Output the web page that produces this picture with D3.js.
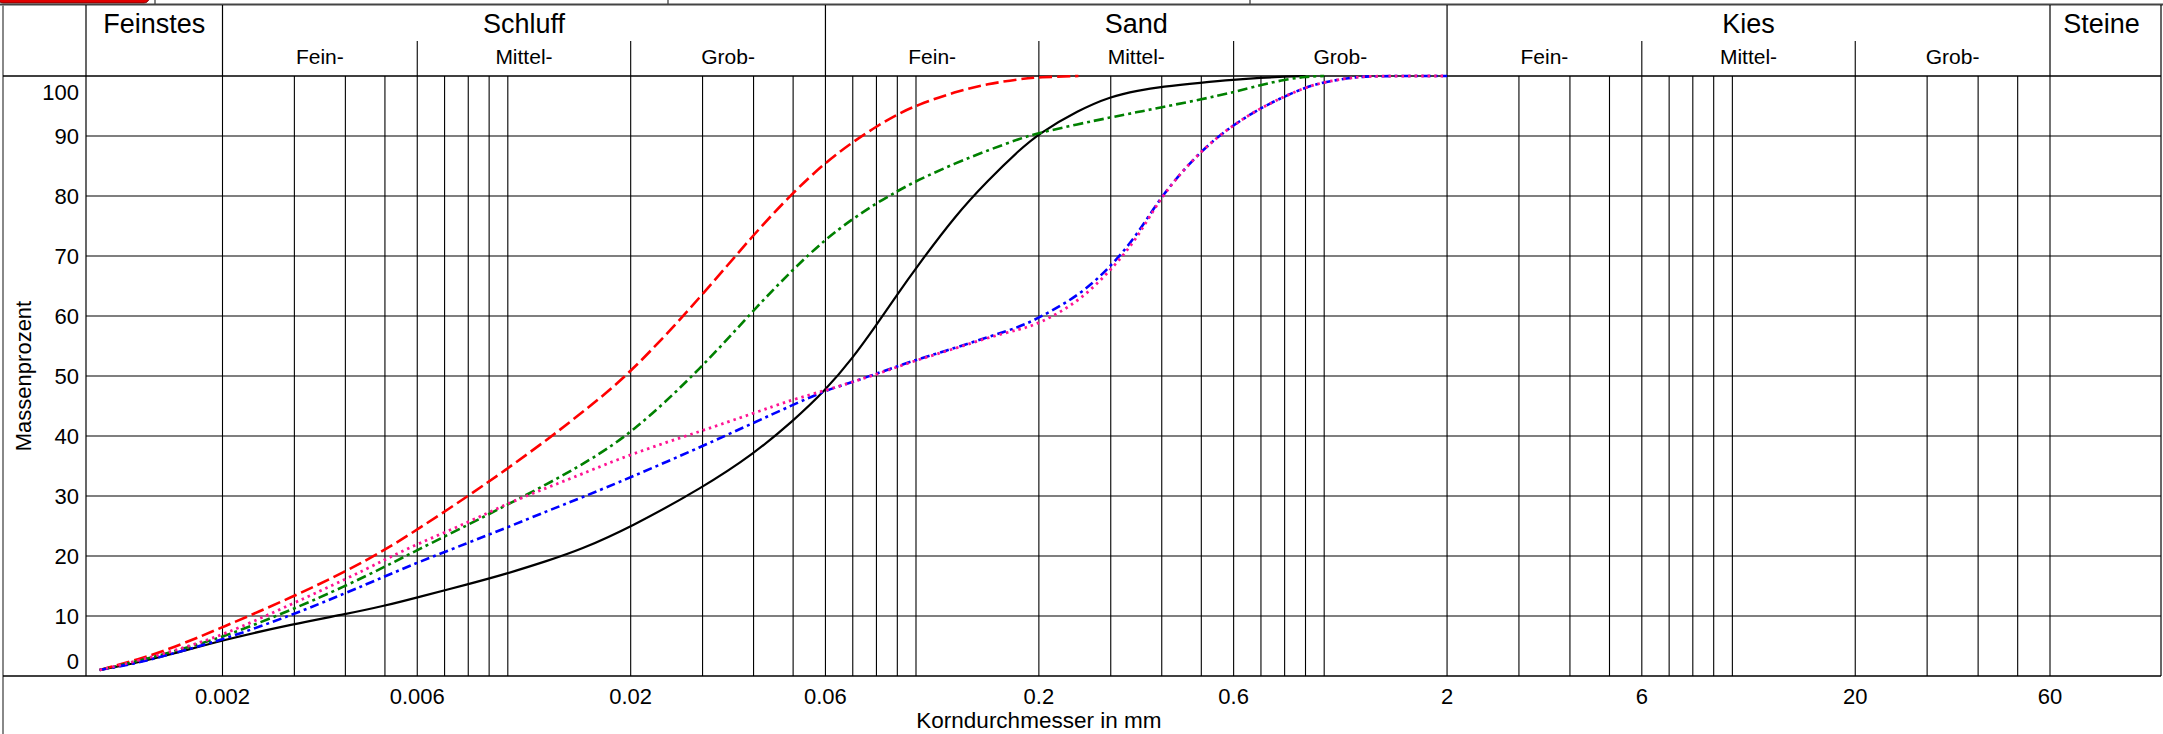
<!DOCTYPE html>
<html>
<head>
<meta charset="utf-8">
<script src="https://cdn.jsdelivr.net/npm/d3@7/dist/d3.min.js"></script>
<style>
  body { margin: 0; background: #fff; }
  svg text { font-family: "Liberation Sans", Arial, sans-serif; fill: #000; }
</style>
</head>
<body>
<svg id="chart"></svg>
<script>
// Korndurchmesser in mm (Sieb- und Schlaemmanalyse)
var korn = [0.001, 0.00125, 0.0015, 0.002, 0.003, 0.004, 0.005, 0.006, 0.008, 0.01,
            0.0125, 0.015, 0.02, 0.03, 0.04, 0.05, 0.06, 0.07, 0.08, 0.09, 0.1,
            0.125, 0.15, 0.18, 0.2, 0.25, 0.3, 0.35, 0.4, 0.5, 0.6, 0.7, 0.8, 0.9,
            1.0, 1.2, 1.4, 2.0];

// Massenprozent (Siebdurchgang) je Probe
var probeSchwarz = [1.0, 2.3, 3.6, 6.0, 8.7, 10.3, 11.7, 13.1, 15.3, 17.1,
                    19.2, 21.0, 24.8, 31.4, 37.0, 42.5, 47.6, 53.0, 58.5, 63.6, 68.0,
                    76.8, 82.6, 87.8, 90.4, 94.3, 96.6, 97.6, 98.2, 98.9, 99.4, 99.7, 99.9, 100,
                    null, null, null, null];
var probeRot     = [1.0, 2.8, 4.6, 8.1, 13.3, 17.4, 21.0, 24.4, 30.0, 34.6,
                    39.4, 43.6, 50.4, 63.5, 73.6, 80.6, 85.6, 89.0, 91.6, 93.6, 95.1,
                    97.4, 98.7, 99.5, 99.8, 100, null, null, null, null, null, null, null, null,
                    null, null, null, null];
var probeGruen   = [1.0, 2.5, 4.0, 6.4, 11.2, 15.0, 18.2, 21.0, 25.2, 28.6,
                    32.0, 35.0, 40.2, 51.5, 61.0, 67.8, 72.8, 76.2, 78.8, 80.8, 82.5,
                    85.5, 87.6, 89.6, 90.5, 92.0, 93.1, 94.0, 94.8, 96.1, 97.3, 98.5, 99.4, 99.9,
                    100, null, null, null];
var probeBlau    = [1.0, 2.2, 3.7, 6.0, 10.3, 13.8, 16.6, 18.9, 22.2, 24.8,
                    27.5, 29.6, 33.1, 38.3, 42.2, 45.2, 47.6, 49.0, 50.4, 51.6, 52.7,
                    54.7, 56.5, 58.2, 59.7, 63.3, 68.2, 73.7, 80.2, 87.7, 91.9, 94.7, 96.6, 98.1,
                    99.0, 99.9, 100, 100];
var probePink    = [1.0, 2.6, 4.1, 6.7, 12.2, 16.1, 19.4, 22.0, 25.6, 28.8,
                    31.4, 33.5, 37.0, 40.9, 43.8, 46.1, 47.6, 49.0, 50.3, 51.5, 52.6,
                    54.6, 56.4, 57.8, 58.7, 62.3, 67.6, 73.1, 80.2, 87.7, 91.9, 94.7, 96.6, 98.1,
                    99.0, 99.9, 100, 100];

var xTickWerte = [0.002, 0.006, 0.02, 0.06, 0.2, 0.6, 2, 6, 20, 60];
var xTickText  = ["0.002", "0.006", "0.02", "0.06", "0.2", "0.6", "2", "6", "20", "60"];
var yTickWerte = [0, 10, 20, 30, 40, 50, 60, 70, 80, 90, 100];

// Bodenarten nach DIN 4022
var hauptNamen   = ["Schluff", "Sand", "Kies"];
var hauptGrenzen = [0.002, 0.06, 2, 60];
var unterNamen   = ["Fein-", "Mittel-", "Grob-"];

var width = 2163, height = 734;
var margin = {top: 76, right: 2, bottom: 58, left: 86};
var feinstesW = 136.5, steineW = 111;   // Breite der Randspalten
var headTop = 5, subTop = 41;

var svg = d3.select("#chart")
    .attr("width", width)
    .attr("height", height);

var xScale = d3.scaleLog()
    .domain([hauptGrenzen[0], hauptGrenzen[3]])
    .range([margin.left + feinstesW, width - margin.right - steineW]);

var yScale = d3.scaleLinear()
    .domain([0, 100])
    .range([height - margin.bottom, margin.top]);

var x0 = margin.left, x1 = width - margin.right;
var y0 = yScale(0), y1 = yScale(100);

// kleines Stueck der Werkzeugleiste oben
svg.append("rect").attr("x", -2).attr("y", -8).attr("width", 151).attr("height", 11)
    .attr("rx", 5).attr("fill", "#e00000").attr("stroke", "#7a0000").attr("stroke-width", 1);
[155, 668, 1250].forEach(function(px) {
    svg.append("line").attr("x1", px).attr("x2", px).attr("y1", 0).attr("y2", headTop)
        .attr("stroke", "#333").attr("stroke-width", 1.2);
});
svg.append("line").attr("x1", 0).attr("x2", width).attr("y1", headTop - 0.5).attr("y2", headTop - 0.5)
    .attr("stroke", "#444").attr("stroke-width", 2);

var grid = svg.append("g").attr("class", "grid");

// vertikale Gitterlinien
grid.selectAll("line.vx")
    .data(xScale.ticks())
  .enter().append("line")
    .attr("class", "vx")
    .attr("x1", d => xScale(d)).attr("x2", d => xScale(d))
    .attr("y1", y1).attr("y2", y0)
    .attr("stroke", "#000").attr("stroke-width", 1.1);

// horizontale Gitterlinien
grid.selectAll("line.hy")
    .data(yTickWerte.filter(d => d > 0 && d < 100))
  .enter().append("line")
    .attr("class", "hy")
    .attr("x1", x0).attr("x2", x1)
    .attr("y1", d => yScale(d)).attr("y2", d => yScale(d))
    .attr("stroke", "#000").attr("stroke-width", 1.1);

// Rahmen
svg.append("line").attr("x1", 3).attr("x2", 3).attr("y1", headTop).attr("y2", height)
    .attr("stroke", "#888").attr("stroke-width", 2);
svg.append("line").attr("x1", x0).attr("x2", x0).attr("y1", headTop).attr("y2", y0)
    .attr("stroke", "#000").attr("stroke-width", 1.2);
svg.append("line").attr("x1", x1).attr("x2", x1).attr("y1", headTop).attr("y2", y0)
    .attr("stroke", "#000").attr("stroke-width", 1.2);
[y1, y0].forEach(function(py) {
    svg.append("line").attr("x1", 3).attr("x2", x1).attr("y1", py).attr("y2", py)
        .attr("stroke", "#000").attr("stroke-width", 1.6);
});

// Kopfzeile: Hauptgruppen
hauptGrenzen.forEach(function(g) {
    svg.append("line").attr("x1", xScale(g)).attr("x2", xScale(g))
        .attr("y1", headTop).attr("y2", y1)
        .attr("stroke", "#000").attr("stroke-width", 1.2);
});

var kopf = svg.append("g").attr("class", "kopf");
kopf.append("text")
    .attr("x", (x0 + xScale(hauptGrenzen[0])) / 2).attr("y", 33)
    .attr("text-anchor", "middle").style("font-size", "27px")
    .text("Feinstes");
kopf.append("text")
    .attr("x", (xScale(hauptGrenzen[3]) + x1) / 2 - 4).attr("y", 33)
    .attr("text-anchor", "middle").style("font-size", "27px")
    .text("Steine");

hauptNamen.forEach(function(name, i) {
    kopf.append("text")
        .attr("x", (xScale(hauptGrenzen[i]) + xScale(hauptGrenzen[i + 1])) / 2).attr("y", 33)
        .attr("text-anchor", "middle").style("font-size", "27px")
        .text(name);

    // Unterteilung Fein-/Mittel-/Grob- an den Klassengrenzen
    var teil = xTickWerte.slice(3 * i, 3 * i + 4);
    [teil[1], teil[2]].forEach(function(g) {
        kopf.append("line").attr("x1", xScale(g)).attr("x2", xScale(g))
            .attr("y1", subTop).attr("y2", y1)
            .attr("stroke", "#000").attr("stroke-width", 1.1);
    });
    unterNamen.forEach(function(u, j) {
        kopf.append("text")
            .attr("x", (xScale(teil[j]) + xScale(teil[j + 1])) / 2).attr("y", 64)
            .attr("text-anchor", "middle").style("font-size", "21px")
            .text(u);
    });
});

// y-Achse Beschriftung
svg.append("g").selectAll("text")
    .data(yTickWerte)
  .enter().append("text")
    .attr("x", 79)
    .attr("y", function(d) {
        if (d === 100) return yScale(d) + 24;
        if (d === 0) return yScale(d) - 7;
        return yScale(d) + 8;
    })
    .attr("text-anchor", "end").style("font-size", "22px")
    .text(d => d);

svg.append("text")
    .attr("transform", "translate(31," + (y0 + y1) / 2 + ") rotate(-90)")
    .attr("text-anchor", "middle").style("font-size", "22px")
    .text("Massenprozent");

// x-Achse Beschriftung
svg.append("g").selectAll("text")
    .data(xTickWerte)
  .enter().append("text")
    .attr("x", d => xScale(d)).attr("y", y0 + 28)
    .attr("text-anchor", "middle").style("font-size", "22px")
    .text((d, i) => xTickText[i]);

svg.append("text")
    .attr("x", xScale(0.2)).attr("y", y0 + 52)
    .attr("text-anchor", "middle").style("font-size", "22.5px")
    .text("Korndurchmesser in mm");

// Kornverteilungslinien
var line = d3.line()
    .x(d => xScale(d.d))
    .y(d => yScale(d.p))
    .curve(d3.curveBasis);

var proben = [
    {werte: probeSchwarz, farbe: "#000000", dash: null,         breite: 2.2},
    {werte: probeRot,     farbe: "#ff0000", dash: "13,5",       breite: 2.6},
    {werte: probeGruen,   farbe: "#008000", dash: "10,4,3,4",   breite: 2.6},
    {werte: probeBlau,    farbe: "#0000ff", dash: "9,4,3,4",    breite: 2.6},
    {werte: probePink,    farbe: "#ff1493", dash: "2.5,4",      breite: 2.8}
];

proben.forEach(function(p) {
    var punkte = korn.map((d, i) => ({d: d, p: p.werte[i]}))
                     .filter(d => d.p != null);
    svg.append("path")
        .datum(punkte)
        .attr("fill", "none")
        .attr("stroke", p.farbe)
        .attr("stroke-width", p.breite)
        .attr("stroke-dasharray", p.dash)
        .attr("d", line);
});
</script>
</body>
</html>
